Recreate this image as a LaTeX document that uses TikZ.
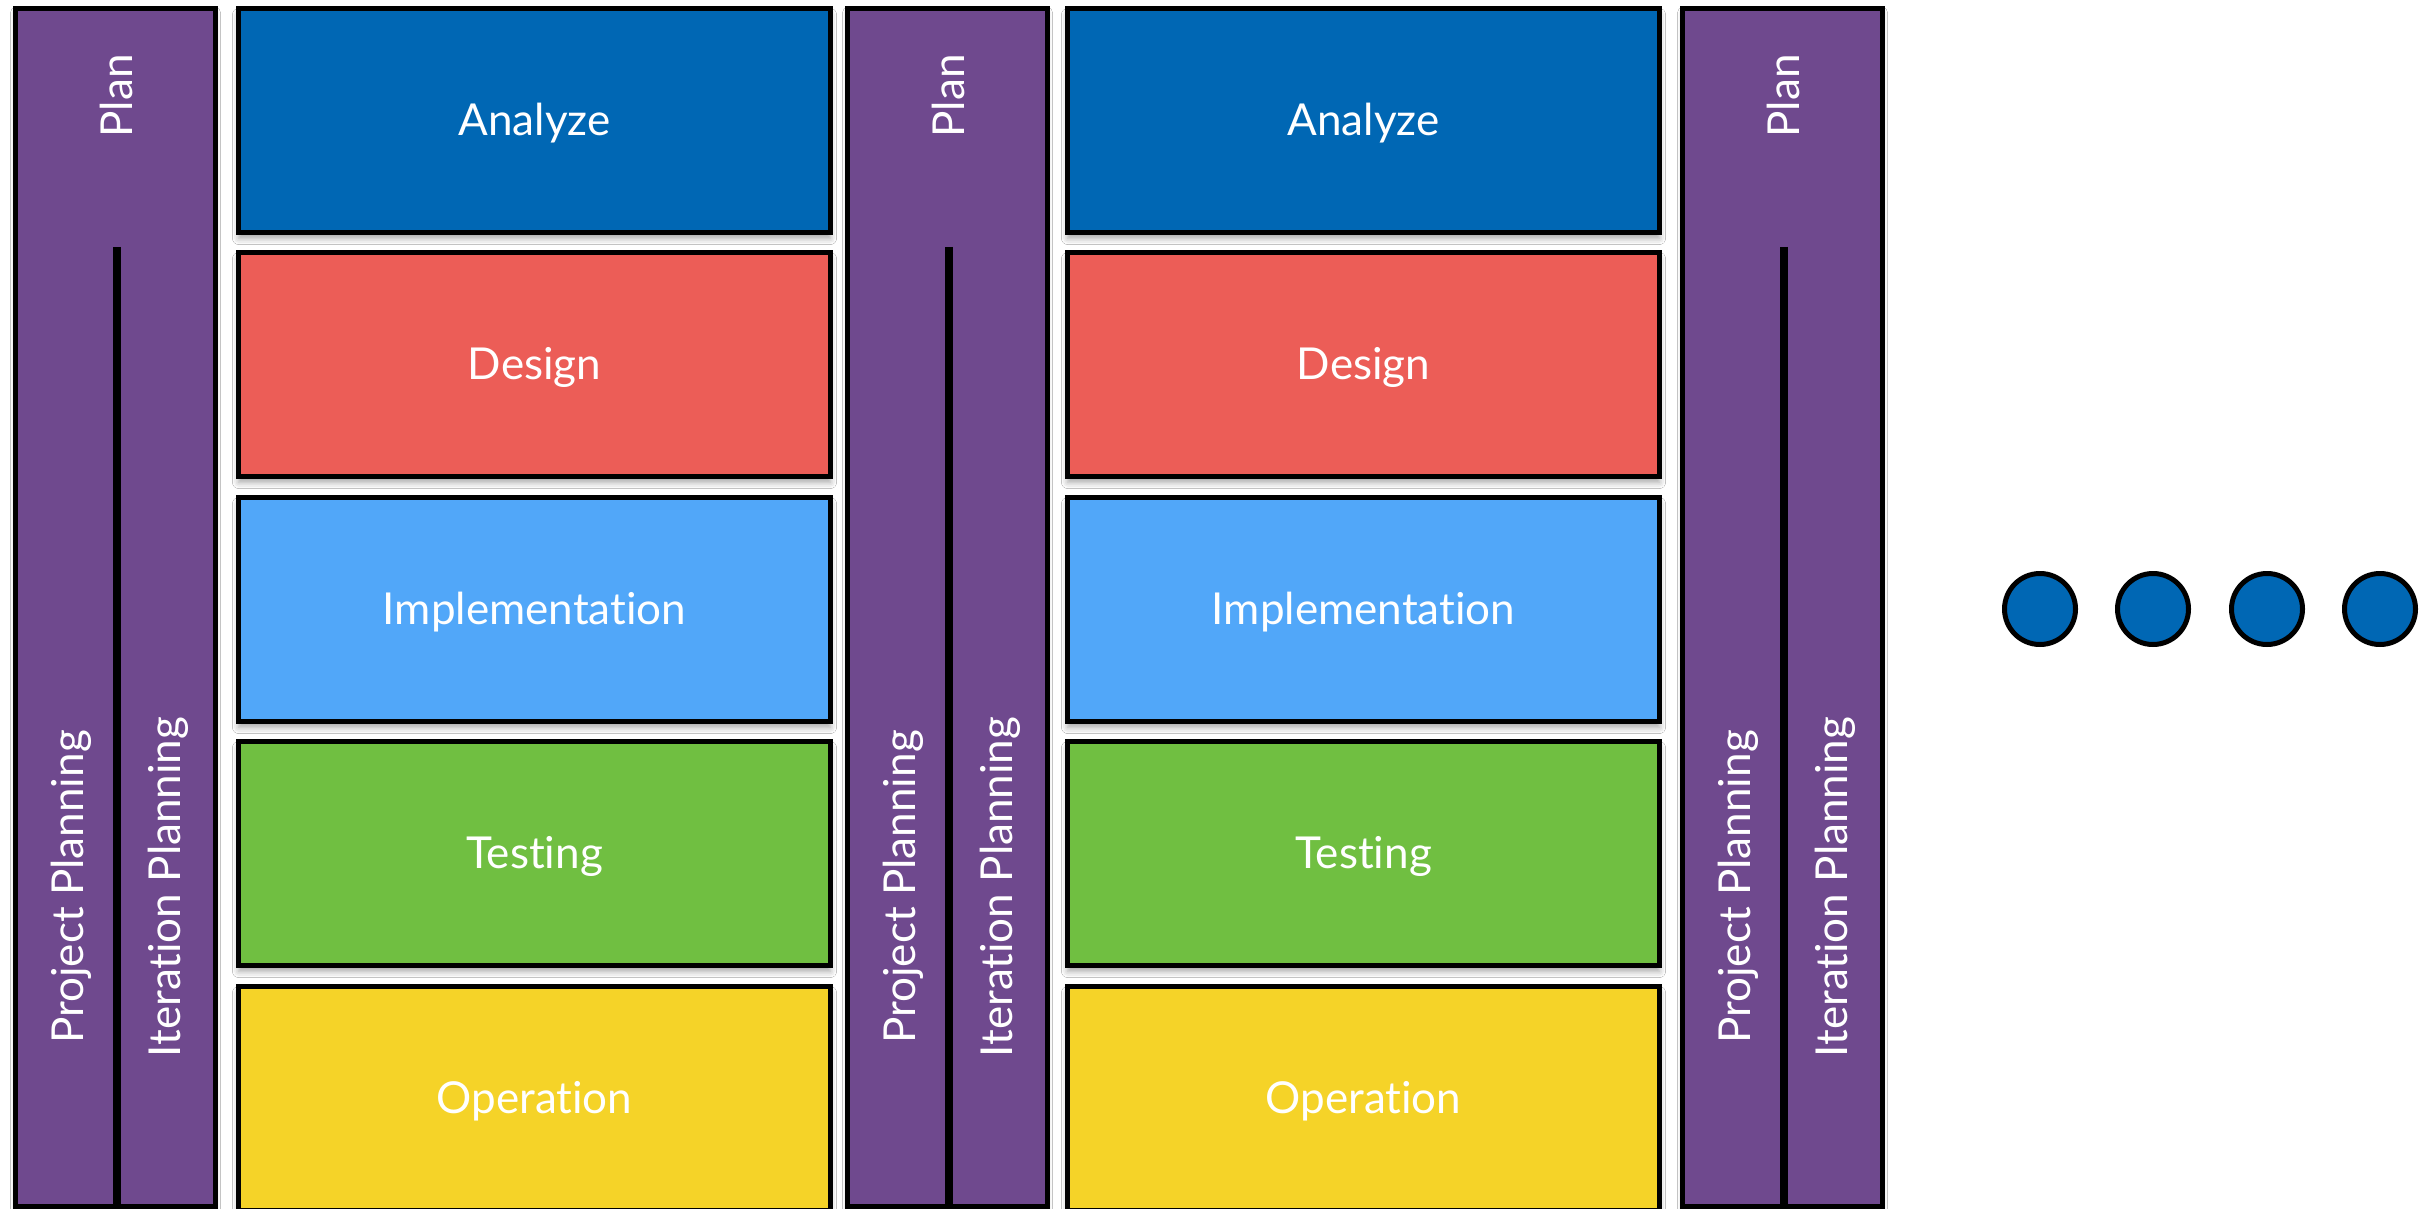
\documentclass[tikz,border=0pt]{standalone}
\usepackage{fontspec}
\setmainfont{Lato}[Ligatures=NoCommon]
\usetikzlibrary{shadows.blur}
\definecolor{planpurple}{RGB}{111,73,142}
\definecolor{analyzeblue}{RGB}{0,103,180}
\definecolor{designred}{RGB}{236,93,87}
\definecolor{implblue}{RGB}{81,167,249}
\definecolor{testgreen}{RGB}{112,191,65}
\definecolor{opyellow}{RGB}{245,211,40}
\begin{document}
\begin{tikzpicture}[x=1pt,y=-1pt,
  txt/.style={text=white, font=\fontsize{44}{52}\selectfont},
  phase/.style={txt, draw=black, line width=5pt, minimum width=592pt, minimum height=224pt, inner sep=0pt,
    text height=36pt, text depth=6pt,
    blur shadow={shadow xshift=0pt, shadow yshift=-6pt, shadow blur radius=6pt, shadow opacity=35}},
  plancol/.style={draw=black, fill=planpurple, line width=5pt, minimum width=200pt, minimum height=1198pt, inner sep=0pt,
    blur shadow={shadow xshift=0pt, shadow yshift=-4pt, shadow blur radius=5pt, shadow opacity=25}},
  vlabel/.style={txt, rotate=90, anchor=base, inner sep=0pt},
  divider/.style={line width=8pt},
  dot/.style={circle, draw=black, fill=analyzeblue, line width=5pt, minimum size=71pt, inner sep=0pt}]
\useasboundingbox (0,0) rectangle (2429,1209);
\fill[white] (0,0) rectangle (2429,1209);

% planning columns
\foreach \n/\x in {1/115.5, 2/947.5, 3/1782.5} {
  \node[plancol] (col\n) at (\x,607.5) {};
  \coordinate (dtop\n) at (\x+1.5,247);
  \draw[divider] (dtop\n) -- (dtop\n |- col\n.south);
  \node[vlabel] (plan\n) at (\x+16.5,96) {Plan};
  \node[vlabel] (proj\n) at (\x-32.5,887) {Project Planning};
  \node[vlabel] (iter\n) at (\x+64.5,887) {Iteration Planning};
}

% phase boxes
\foreach \c/\x in {a/534.5, b/1363.5} {
  \node[phase, fill=analyzeblue] (analyze\c) at (\x,120.5) {Analyze};
  \node[phase, fill=designred] (design\c) at (\x,364.5) {Design};
  \node[phase, fill=implblue] (impl\c) at (\x,609.5) {Implementation};
  \node[phase, fill=testgreen] (test\c) at (\x,853.5) {Testing};
  \node[phase, fill=opyellow] (oper\c) at (\x,1098.5) {Operation};
}

% dots
\node[dot] (dot1) at (2040,609) {};
\node[dot] (dot2) at (2153,609) {};
\node[dot] (dot3) at (2267,609) {};
\node[dot] (dot4) at (2380,609) {};
\end{tikzpicture}
\end{document}
